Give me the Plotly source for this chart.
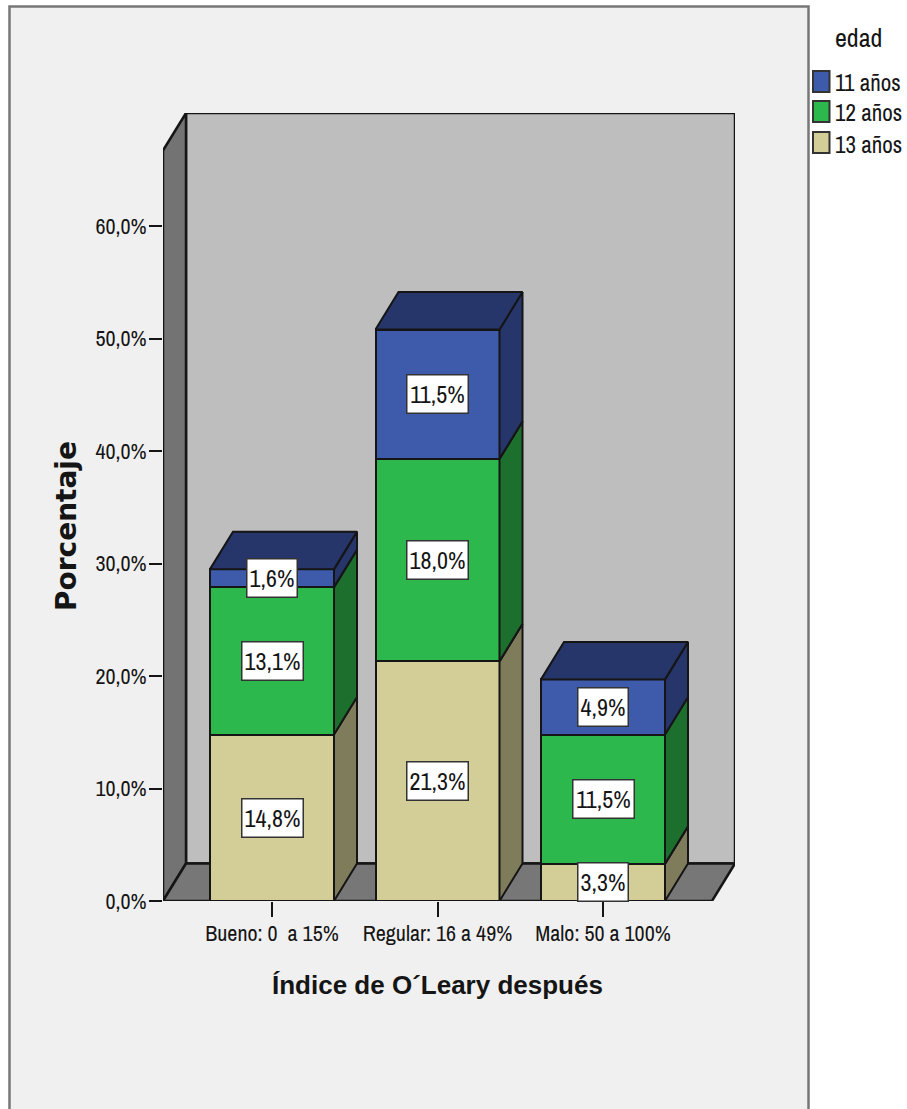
import plotly.graph_objects as go

# Chart data
categories = ["Bueno: 0  a 15%", "Regular: 16 a 49%", "Malo: 50 a 100%"]
ages = ["13 años", "12 años", "11 años"]
pct_13 = [14.8, 21.3, 3.3]
pct_12 = [13.1, 18.0, 11.5]
pct_11 = [1.6, 11.5, 4.9]
y_ticks = [0, 10, 20, 30, 40, 50, 60]
y_tick_labels = ["0,0%", "10,0%", "20,0%", "30,0%", "40,0%", "50,0%", "60,0%"]

series = [pct_13, pct_12, pct_11]
front_colors = ["#d3ce97", "#2db84d", "#3e5aab"]
side_colors = ["#7f7c5b", "#1d6f2e", "#26366b"]
top_color = "#26366b"
narrow = "Archivo Narrow, Roboto Condensed, Liberation Sans Narrow, Liberation Sans, Arial"
regular = "Liberation Sans, Arial"
wide = "DejaVu Sans, Liberation Sans, Arial"
ink = "#151515"

W, H = 907, 1109

# Pixel frame of the oblique box
left_px, right_px = 163, 735
base_px, top_px = 901, 113
cat_px = 165.5
first_cat_px = 272
pct_px = 11.25
depth_x = 23 / cat_px
depth_y = 37.5 / pct_px
bar_w = 124 / cat_px

x_min = (left_px - first_cat_px) / cat_px
x_max = (right_px - first_cat_px) / cat_px
y_max = (base_px - top_px) / pct_px
x_front_max = x_max - depth_x
wall_top = y_max - depth_y

fig = go.Figure()


def poly_path(points):
    return "M " + " L ".join(f"{x},{y}" for x, y in points) + " Z"


# Walls and floor sit behind every trace
walls = [
    ("#bebebe", [(x_min + depth_x, depth_y), (x_max, depth_y), (x_max, y_max), (x_min + depth_x, y_max)]),
    ("#737373", [(x_min, 0), (x_min + depth_x, depth_y), (x_min + depth_x, y_max), (x_min, wall_top)]),
    ("#777777", [(x_min, 0), (x_min + depth_x, depth_y), (x_max, depth_y), (x_front_max, 0)]),
]
shapes = [
    dict(type="rect", xref="paper", yref="paper", x0=9.5 / W, x1=808.5 / W, y0=-0.01, y1=1 - 6.5 / H,
         fillcolor="#f0f0f0", line=dict(color="#777777", width=2.5), layer="below")
]
for color, pts in walls:
    shapes.append(dict(type="path", path=poly_path(pts), xref="x", yref="y", fillcolor=color,
                       line=dict(color=ink, width=2.5), layer="below"))

# Front faces of the stacked columns
for name, values, color in zip(ages, series, front_colors):
    fig.add_trace(go.Bar(x=list(range(len(categories))), y=values, name=name, width=bar_w,
                         marker=dict(color=color, line=dict(color=ink, width=2)), showlegend=False))

# Side and top faces, derived from the cumulative stack heights
for i in range(len(categories)):
    xr = i + bar_w / 2
    xl = i - bar_w / 2
    bottom = 0
    for values, color in zip(series, side_colors):
        upper = bottom + values[i]
        fig.add_trace(go.Scatter(
            x=[xr, xr + depth_x, xr + depth_x, xr, xr],
            y=[bottom, bottom + depth_y, upper + depth_y, upper, bottom],
            mode="lines", fill="toself", fillcolor=color, line=dict(color=ink, width=2),
            showlegend=False, hoverinfo="skip"))
        bottom = upper
    fig.add_trace(go.Scatter(
        x=[xl, xl + depth_x, xr + depth_x, xr, xl],
        y=[bottom, bottom + depth_y, bottom + depth_y, bottom, bottom],
        mode="lines", fill="toself", fillcolor=top_color, line=dict(color=ink, width=2),
        showlegend=False, hoverinfo="skip"))

# Value boxes centred on each front segment
annotations = []
for i in range(len(categories)):
    bottom = 0
    for values in series:
        annotations.append(dict(
            x=i, y=bottom + values[i] / 2, xref="x", yref="y", showarrow=False,
            text=f"{values[i]:.1f}%".replace(".", ","),
            font=dict(family=narrow, size=24, color=ink),
            bgcolor="white", bordercolor="#333333", borderwidth=1.5,
            width=58 if values[i] >= 10 else 47, height=35, align="center", valign="middle"))
        bottom += values[i]

# Legend block at the right of the frame
legend_names = ["11 años", "12 años", "13 años"]
legend_colors = ["#3e5aab", "#2db84d", "#d3ce97"]
legend_tops = [71, 101, 132]
for name, color, top in zip(legend_names, legend_colors, legend_tops):
    shapes.append(dict(type="rect", xref="paper", yref="paper", x0=813 / W, x1=829.5 / W,
                       y0=1 - (top + 21) / H, y1=1 - top / H, fillcolor=color,
                       line=dict(color="#333333", width=2)))
    annotations.append(dict(x=833 / W, y=1 - (top + 12) / H, xref="paper", yref="paper", showarrow=False,
                            text=name, xanchor="left", yanchor="middle",
                            font=dict(family=narrow, size=23, color=ink)))
annotations.append(dict(x=858 / W, y=1 - 38 / H, xref="paper", yref="paper", showarrow=False, text="edad",
                        xanchor="center", yanchor="middle",
                        font=dict(family=narrow, size=26, color=ink)))

# Axis titles
annotations.append(dict(x=437 / W, y=1 - 985 / H, xref="paper", yref="paper", showarrow=False,
                        xanchor="center", yanchor="middle",
                        text="<b>Índice de O´Leary después</b>",
                        font=dict(family=regular, size=26, color=ink)))
annotations.append(dict(x=67 / W, y=1 - 526 / H, xref="paper", yref="paper", showarrow=False, textangle=-90,
                        xanchor="center", yanchor="middle",
                        text="<b>Porcentaje</b>", font=dict(family=wide, size=28, color=ink)))

fig.update_layout(
    width=W, height=H, margin=dict(l=0, r=0, t=0, b=0, pad=0), autosize=False,
    paper_bgcolor="white", plot_bgcolor="rgba(0,0,0,0)",
    barmode="stack", bargap=0, shapes=shapes, annotations=annotations, showlegend=False,
    xaxis=dict(domain=[left_px / W, right_px / W], range=[x_min, x_max], tickmode="array",
               tickvals=list(range(len(categories))), ticktext=categories, ticks="outside", ticklen=15,
               ticklabelstandoff=-2,
               tickwidth=2, tickcolor=ink, showgrid=False, zeroline=False, showline=False, automargin=False,
               tickfont=dict(family=narrow, size=22, color=ink)),
    yaxis=dict(domain=[1 - base_px / H, 1 - top_px / H], range=[0, y_max], tickmode="array",
               tickvals=y_ticks, ticktext=y_tick_labels, ticks="outside", ticklen=13, tickwidth=2,
               ticklabelstandoff=-2,
               tickcolor=ink, showgrid=False, zeroline=False, showline=False, automargin=False,
               tickfont=dict(family=narrow, size=22, color=ink)),
)

fig.write_html("out.html")
